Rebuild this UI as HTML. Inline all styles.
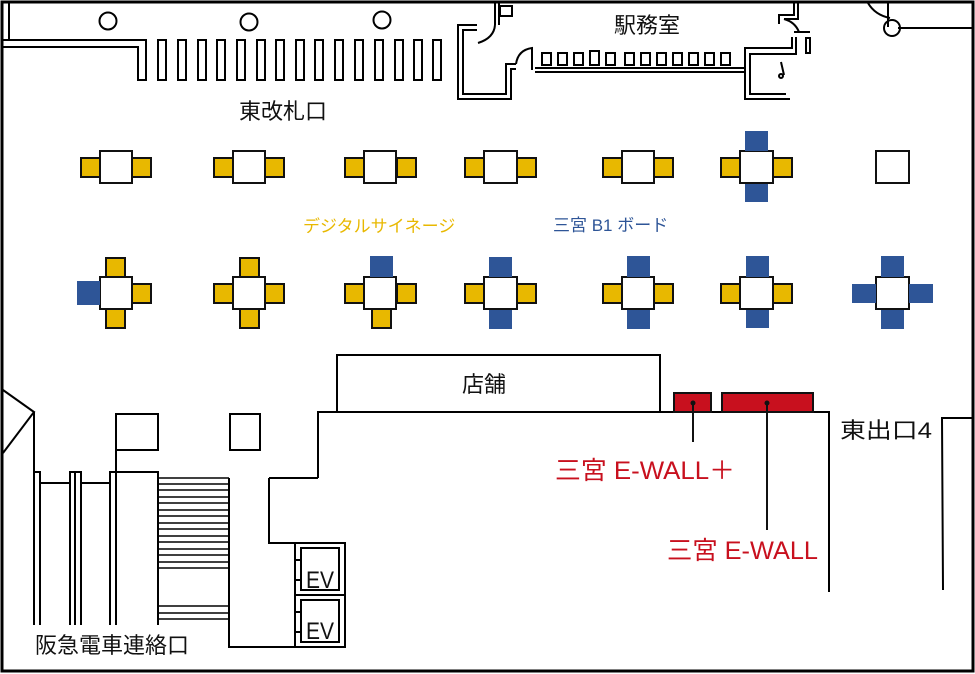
<!DOCTYPE html>
<html><head><meta charset="utf-8"><style>
html,body{margin:0;padding:0;background:#fff;}
svg{display:block;}
text{font-family:"Liberation Sans","Noto Sans CJK JP",sans-serif;}
</style></head><body>
<svg width="975" height="674" viewBox="0 0 975 674" xmlns="http://www.w3.org/2000/svg">
<rect x="0" y="0" width="975" height="674" fill="#fff"/>
<g fill="none" stroke="#000" stroke-width="2">
<rect x="2" y="2" width="971" height="669" stroke-width="3"/>
<polyline points="3,40 146,40 146,80 138,80 138,47 3,47"/>
<line x1="9" y1="3" x2="9" y2="40"/>
<circle cx="108" cy="21" r="8.5"/>
<circle cx="249" cy="22" r="8.5"/>
<circle cx="382" cy="20" r="8.5"/>
<g>
<rect x="158" y="40" width="8" height="40"/><rect x="178" y="40" width="8" height="40"/>
<rect x="198" y="40" width="8" height="40"/><rect x="217" y="40" width="8" height="40"/>
<rect x="237" y="40" width="8" height="40"/><rect x="257" y="40" width="8" height="40"/>
<rect x="276" y="40" width="8" height="40"/><rect x="296" y="40" width="8" height="40"/>
<rect x="315" y="40" width="8" height="40"/><rect x="335" y="40" width="8" height="40"/>
<rect x="355" y="40" width="8" height="40"/><rect x="375" y="40" width="8" height="40"/>
<rect x="395" y="40" width="8" height="40"/><rect x="414" y="40" width="8" height="40"/>
<rect x="433" y="40" width="8" height="40"/>
</g>
<polyline points="477,25 458,25 458,99 511,99 511,69 516,69"/>
<polyline points="477,30 463,30 463,94 506,94 506,64 516,64"/>
<line x1="495" y1="3" x2="495" y2="25"/><line x1="499" y1="3" x2="499" y2="25"/>
<rect x="500" y="6" width="12" height="10"/>
<path d="M478,43 Q494,38 495,25"/>
<path d="M516,64 Q518,50 532,48 L532,70"/>
<polyline points="535,68 745,68"/><polyline points="535,72 745,72"/>
<g>
<rect x="542" y="53" width="9" height="12"/><rect x="558" y="53" width="9" height="12"/>
<rect x="574" y="53" width="9" height="12"/><rect x="590" y="51" width="9" height="14"/>
<rect x="606" y="53" width="9" height="12"/><rect x="625" y="53" width="9" height="12"/>
<rect x="641" y="53" width="9" height="12"/><rect x="657" y="53" width="9" height="12"/>
<rect x="673" y="53" width="9" height="12"/><rect x="689" y="53" width="9" height="12"/>
<rect x="705" y="53" width="9" height="12"/><rect x="721" y="53" width="9" height="12"/>
</g>
<polyline points="745,68 745,99 790,99 Q796,96 796,80 L790,76"/>
<polyline points="750,72 750,94 786,94 Q791,92 791,82"/>
<polyline points="745,68 745,48 792,48 792,37"/>
<polyline points="750,72 750,54 796,54 796,37"/>
<path d="M781,62 L784,75"/><circle cx="781" cy="76" r="2"/>
<polyline points="794,3 794,15 779,15 779,24"/><polyline points="798,3 798,19 784,19"/>
<path d="M784,19 Q795,22 799,32 L795,32"/><line x1="794" y1="32" x2="810" y2="32"/>
<rect x="806" y="38" width="4" height="15"/>
<path d="M868,3 Q875,15 890,18"/>
<line x1="888" y1="3" x2="888" y2="27"/>
<circle cx="892" cy="28" r="8"/>
<line x1="898" y1="28" x2="972" y2="28"/>
</g>
<g stroke="#111" stroke-width="2">
<g fill="#e8b800">
<rect x="81" y="158" width="19" height="19"/><rect x="132" y="158" width="19" height="19"/>
<rect x="214" y="158" width="19" height="19"/><rect x="265" y="158" width="19" height="19"/>
<rect x="345" y="158" width="19" height="19"/><rect x="397" y="158" width="19" height="19"/>
<rect x="465" y="158" width="19" height="19"/><rect x="517" y="158" width="19" height="19"/>
<rect x="603" y="158" width="19" height="19"/><rect x="654" y="158" width="19" height="19"/>
<rect x="721" y="158" width="19" height="19"/><rect x="773" y="158" width="19" height="19"/>
<rect x="106" y="258" width="19" height="19"/><rect x="132" y="284" width="19" height="19"/><rect x="106" y="309" width="19" height="19"/>
<rect x="240" y="258" width="19" height="19"/><rect x="214" y="284" width="19" height="19"/><rect x="265" y="284" width="19" height="19"/><rect x="240" y="309" width="19" height="19"/>
<rect x="345" y="284" width="19" height="19"/><rect x="397" y="284" width="19" height="19"/><rect x="372" y="309" width="19" height="19"/>
<rect x="465" y="284" width="19" height="19"/><rect x="517" y="284" width="19" height="19"/>
<rect x="603" y="284" width="19" height="19"/><rect x="654" y="284" width="19" height="19"/>
<rect x="721" y="284" width="19" height="19"/><rect x="773" y="284" width="19" height="19"/>
</g>
<g fill="#fff">
<rect x="100" y="151" width="32" height="32"/><rect x="233" y="151" width="32" height="32"/>
<rect x="364" y="151" width="32" height="32"/><rect x="484" y="151" width="33" height="32"/>
<rect x="622" y="151" width="32" height="32"/><rect x="740" y="151" width="33" height="32"/>
<rect x="876" y="151" width="33" height="32"/>
<rect x="100" y="277" width="32" height="32"/><rect x="233" y="277" width="32" height="32"/>
<rect x="364" y="277" width="32" height="32"/><rect x="484" y="277" width="33" height="32"/>
<rect x="622" y="277" width="32" height="32"/><rect x="740" y="277" width="33" height="32"/>
<rect x="876" y="277" width="33" height="32"/>
</g>
</g>
<g fill="#2e5597">
<rect x="745" y="131" width="23" height="20"/><rect x="745" y="184" width="23" height="18"/>
<rect x="77" y="281" width="23" height="24"/>
<rect x="370" y="256" width="23" height="21"/>
<rect x="489" y="257" width="23" height="20"/><rect x="489" y="310" width="23" height="19"/>
<rect x="627" y="256" width="23" height="21"/><rect x="627" y="310" width="23" height="19"/>
<rect x="746" y="256" width="23" height="21"/><rect x="746" y="310" width="23" height="18"/>
<rect x="881" y="256" width="23" height="21"/><rect x="881" y="310" width="23" height="19"/>
<rect x="852" y="284" width="24" height="19"/><rect x="909" y="284" width="24" height="19"/>
</g>
<g fill="none" stroke="#000" stroke-width="2">
<rect x="337" y="355" width="323" height="57"/>
<polyline points="318,478 318,412 829,412 829,592"/>
<polyline points="269,478 318,478"/>
<polyline points="269,478 269,543 345,543 345,647 229,647 229,478"/>
<line x1="295" y1="543" x2="295" y2="647"/>
<line x1="295" y1="595" x2="345" y2="595"/>
<rect x="301" y="548" width="38" height="42"/>
<rect x="301" y="600" width="38" height="42"/>
<line x1="295" y1="560" x2="301" y2="560"/><line x1="295" y1="580" x2="301" y2="580"/>
<line x1="295" y1="612" x2="301" y2="612"/><line x1="295" y1="632" x2="301" y2="632"/>
<polyline points="943,590 942,418 972,418"/>
<polyline points="3,390 34,412 3,453"/>
<line x1="34" y1="412" x2="34" y2="625"/>
<polyline points="34,472 40,472 40,625"/>
<polyline points="40,483 70,483"/>
<polyline points="70,625 70,472 81,472 81,625"/><line x1="75" y1="472" x2="75" y2="625"/>
<polyline points="81,483 110,483"/>
<polyline points="110,625 110,472 158,472 158,625"/><line x1="116" y1="472" x2="116" y2="625"/>
<polyline points="116,472 116,414 158,414 158,450 116,450"/>
<rect x="230" y="414" width="30" height="36"/>
<g stroke-width="1.6">
<line x1="158" y1="478" x2="229" y2="478"/><line x1="158" y1="484" x2="229" y2="484"/>
<line x1="158" y1="490" x2="229" y2="490"/><line x1="158" y1="497" x2="229" y2="497"/>
<line x1="158" y1="503" x2="229" y2="503"/><line x1="158" y1="510" x2="229" y2="510"/>
<line x1="158" y1="516" x2="229" y2="516"/><line x1="158" y1="523" x2="229" y2="523"/>
<line x1="158" y1="529" x2="229" y2="529"/><line x1="158" y1="536" x2="229" y2="536"/>
<line x1="158" y1="542" x2="229" y2="542"/><line x1="158" y1="549" x2="229" y2="549"/>
<line x1="158" y1="555" x2="229" y2="555"/><line x1="158" y1="562" x2="229" y2="562"/>
<line x1="158" y1="568" x2="229" y2="568"/>
<line x1="158" y1="606" x2="229" y2="606"/><line x1="158" y1="613" x2="229" y2="613"/>
<line x1="158" y1="619" x2="229" y2="619"/>
</g>
</g>
<g stroke="#111" stroke-width="2" fill="#c8101e">
<rect x="674" y="393" width="37" height="19"/>
<rect x="722" y="393" width="91" height="19"/>
</g>
<g stroke="#111" stroke-width="2">
<line x1="693" y1="403" x2="693" y2="442"/>
<line x1="767" y1="403" x2="767" y2="530"/>
</g>
<circle cx="693" cy="403" r="2.5" fill="#111"/><circle cx="767" cy="403" r="2.5" fill="#111"/>
<g font-size="22" fill="#111">
<text x="239" y="119">東改札口</text>
<text x="614" y="33">駅務室</text>
<text x="462" y="392">店舗</text>
<text x="840" y="438" textLength="92" lengthAdjust="spacingAndGlyphs">東出口4</text>
<text x="35" y="653">阪急電車連絡口</text>
<text x="306" y="588" font-size="24" textLength="28" lengthAdjust="spacingAndGlyphs">EV</text>
<text x="306" y="639" font-size="24" textLength="28" lengthAdjust="spacingAndGlyphs">EV</text>
</g>
<text x="303" y="232" font-size="17" fill="#e8b800">デジタルサイネージ</text>
<text x="553" y="231" font-size="17" fill="#2e5597">三宮 B1 ボード</text>
<text x="555" y="479" font-size="25" fill="#c8101e" textLength="180" lengthAdjust="spacingAndGlyphs">三宮 E-WALL＋</text>
<text x="667" y="559" font-size="25" fill="#c8101e" textLength="151" lengthAdjust="spacingAndGlyphs">三宮 E-WALL</text>
</svg>
</body></html>
